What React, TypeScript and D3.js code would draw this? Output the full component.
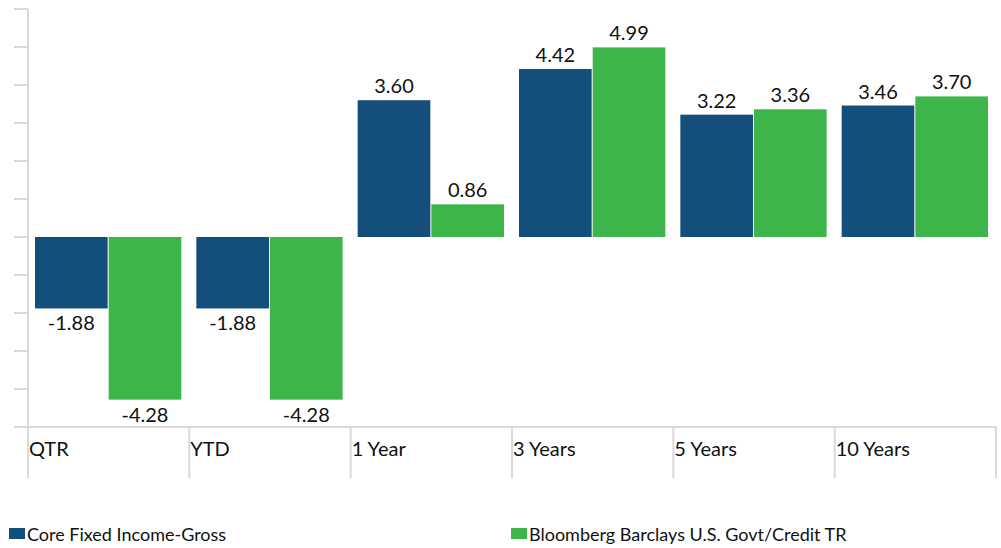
import { useEffect, useRef } from 'react'
import * as d3 from 'd3'

const categories = ['QTR', 'YTD', '1 Year', '3 Years', '5 Years', '10 Years']
const seriesNames = ['Core Fixed Income-Gross', 'Bloomberg Barclays U.S. Govt/Credit TR']
const coreGross = [-1.88, -1.88, 3.6, 4.42, 3.22, 3.46]
const benchmark = [-4.28, -4.28, 0.86, 4.99, 3.36, 3.7]
const colors = ['#134f7a', '#3db54a']

const W = 1001
const H = 548

export default function App() {
  const svgRef = useRef<SVGSVGElement>(null)

  useEffect(() => {
    if (!svgRef.current) return
    const svg = d3.select(svgRef.current)
    svg.selectAll('*').remove()

    const left = 28, right = 996, top = 9, bottom = 427
    const font = 'Lato, "Open Sans", sans-serif'

    const x = d3.scaleBand().domain(categories).range([left, right]).paddingInner(0).paddingOuter(0)
    const xSub = d3.scaleBand().domain(['0', '1']).range([7, x.bandwidth() - 8]).paddingInner(2 / 146)
    const y = d3.scaleLinear().domain([-5, 6]).range([bottom, top])

    const grey = '#d9d9d9'

    // y axis: line + ticks on left, no labels
    svg.append('line')
      .attr('x1', left).attr('x2', left)
      .attr('y1', top).attr('y2', bottom)
      .attr('stroke', grey).attr('stroke-width', 2)
    y.ticks(11).forEach(t => {
      svg.append('line')
        .attr('x1', 14).attr('x2', left)
        .attr('y1', y(t)).attr('y2', y(t))
        .attr('stroke', grey).attr('stroke-width', 2)
    })

    // bottom category axis
    svg.append('line')
      .attr('x1', 14).attr('x2', right)
      .attr('y1', bottom).attr('y2', bottom)
      .attr('stroke', grey).attr('stroke-width', 2)
    categories.forEach((c, i) => {
      const x0 = x(c)!
      svg.append('line')
        .attr('x1', x0).attr('x2', x0)
        .attr('y1', bottom).attr('y2', 478)
        .attr('stroke', grey).attr('stroke-width', 2)
      if (i === categories.length - 1) {
        svg.append('line')
          .attr('x1', x0 + x.bandwidth()).attr('x2', x0 + x.bandwidth())
          .attr('y1', bottom).attr('y2', 478)
          .attr('stroke', grey).attr('stroke-width', 2)
      }
      svg.append('text')
        .attr('x', x0 + 1).attr('y', 456)
        .attr('font-family', font).attr('font-size', 20)
        .attr('fill', '#111')
        .text(c)
    })

    // bars
    const series = [coreGross, benchmark]
    series.forEach((vals, s) => {
      const g = svg.append('g')
      vals.forEach((v, i) => {
        const bx = x(categories[i])! + xSub(String(s))!
        const bw = xSub.bandwidth()
        const y0 = y(Math.max(0, v)), y1 = y(Math.min(0, v))
        g.append('rect')
          .attr('x', bx).attr('y', y0)
          .attr('width', bw).attr('height', y1 - y0)
          .attr('fill', colors[s])
        g.append('text')
          .attr('x', bx + bw / 2)
          .attr('y', v >= 0 ? y0 - 7 : y1 + 22)
          .attr('text-anchor', 'middle')
          .attr('font-family', font).attr('font-size', 20)
          .attr('fill', '#111')
          .text(v.toFixed(2))
      })
    })

    // legend
    const legendX = [9, 511]
    seriesNames.forEach((name, s) => {
      svg.append('rect')
        .attr('x', legendX[s]).attr('y', 528)
        .attr('width', 16).attr('height', 11)
        .attr('fill', colors[s])
      svg.append('text')
        .attr('x', legendX[s] + 18).attr('y', 541)
        .attr('font-family', font).attr('font-size', 18)
        .attr('fill', '#111')
        .text(name)
    })
  }, [])

  return (
    <svg
      ref={svgRef}
      width={W}
      height={H}
      style={{ position: 'absolute', left: 0, top: 0, background: '#fff' }}
    />
  )
}
